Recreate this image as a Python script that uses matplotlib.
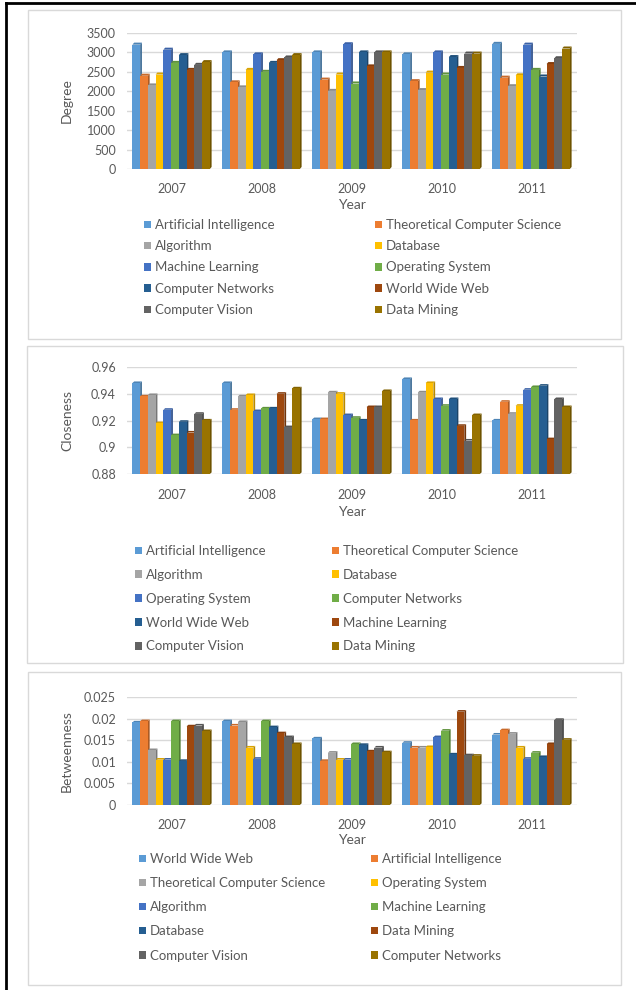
import numpy as np
import matplotlib
matplotlib.use("Agg")
import matplotlib.pyplot as plt
from matplotlib.patches import Rectangle, Patch
from matplotlib.lines import Line2D
import matplotlib.colors as mcolors

plt.rcParams['font.family'] = ['Lato', 'DejaVu Sans']

years = ['2007', '2008', '2009', '2010', '2011']

palette = ['#5B9BD5', '#ED7D31', '#A5A5A5', '#FFC000', '#4472C4',
           '#70AD47', '#255E91', '#9E480E', '#636363', '#997300']

# --- Degree ---
degree_names = ['Artificial Intelligence', 'Theoretical Computer Science', 'Algorithm',
                'Database', 'Machine Learning', 'Operating System', 'Computer Networks',
                'World Wide Web', 'Computer Vision', 'Data Mining']
degree_values = [
    [3200, 3000, 3000, 2950, 3220],
    [2400, 2230, 2300, 2260, 2350],
    [2150, 2100, 2010, 2030, 2130],
    [2430, 2550, 2430, 2480, 2410],
    [3070, 2950, 3210, 3000, 3200],
    [2730, 2500, 2200, 2430, 2550],
    [2930, 2730, 3000, 2880, 2380],
    [2550, 2800, 2640, 2600, 2700],
    [2680, 2870, 3000, 2970, 2850],
    [2750, 2930, 3000, 2970, 3100],
]
degree_ticks = [0, 500, 1000, 1500, 2000, 2500, 3000, 3500]
degree_ticklabels = ['0', '500', '1000', '1500', '2000', '2500', '3000', '3500']

# --- Closeness ---
closeness_names = ['Artificial Intelligence', 'Theoretical Computer Science', 'Algorithm',
                   'Database', 'Operating System', 'Computer Networks', 'World Wide Web',
                   'Machine Learning', 'Computer Vision', 'Data Mining']
closeness_values = [
    [0.948, 0.948, 0.921, 0.951, 0.920],
    [0.938, 0.928, 0.921, 0.920, 0.934],
    [0.939, 0.938, 0.941, 0.941, 0.925],
    [0.918, 0.939, 0.940, 0.948, 0.931],
    [0.928, 0.927, 0.924, 0.936, 0.943],
    [0.909, 0.929, 0.922, 0.931, 0.945],
    [0.919, 0.929, 0.920, 0.936, 0.946],
    [0.911, 0.940, 0.930, 0.916, 0.906],
    [0.925, 0.915, 0.930, 0.905, 0.936],
    [0.920, 0.944, 0.942, 0.924, 0.930],
]
closeness_ticks = [0.88, 0.90, 0.92, 0.94, 0.96]
closeness_ticklabels = ['0.88', '0.9', '0.92', '0.94', '0.96']

# --- Betweenness ---
betweenness_names = ['World Wide Web', 'Artificial Intelligence', 'Theoretical Computer Science',
                     'Operating System', 'Algorithm', 'Machine Learning', 'Database',
                     'Data Mining', 'Computer Vision', 'Computer Networks']
betweenness_values = [
    [0.0191, 0.0194, 0.0154, 0.0144, 0.0163],
    [0.0194, 0.0184, 0.0102, 0.0133, 0.0173],
    [0.0127, 0.0192, 0.0121, 0.0133, 0.0165],
    [0.0105, 0.0133, 0.0105, 0.0134, 0.0133],
    [0.0105, 0.0107, 0.0105, 0.0157, 0.0107],
    [0.0194, 0.0194, 0.0141, 0.0172, 0.0121],
    [0.0102, 0.0180, 0.0139, 0.0117, 0.0111],
    [0.0182, 0.0166, 0.0124, 0.0216, 0.0141],
    [0.0184, 0.0157, 0.0133, 0.0115, 0.0197],
    [0.0171, 0.0141, 0.0122, 0.0114, 0.0151],
]
betweenness_ticks = [0, 0.005, 0.01, 0.015, 0.02, 0.025]
betweenness_ticklabels = ['0', '0.005', '0.01', '0.015', '0.02', '0.025']

TXT = '#595959'
W, H = 636, 990


def shade(c, f):
    r, g, b = mcolors.to_rgb(c)
    return (r * f, g * f, b * f)


def fx(px):
    return px / W


def fy(py):
    return 1 - py / H


def draw_bars(ax, names, values, ticks, ticklabels, ylabel, year_y, tick_pad):
    ymin, ymax = ticks[0], ticks[-1]
    n = len(names)
    bw = 0.086
    dx = 0.02
    dy = (ymax - ymin) * 0.015
    x = np.arange(len(years))
    start = -bw * n / 2 - dx / 2
    for i, (vals, c) in enumerate(zip(values, palette)):
        x0 = x + start + i * bw
        vals = np.asarray(vals)
        z = 2 + i * 0.01
        ax.bar(x0, vals - ymin, width=bw, bottom=ymin, align='edge',
               color=c, linewidth=0, zorder=z)
        # fake 3D side and top faces
        for xl, v in zip(x0, vals):
            ax.fill([xl + bw, xl + bw + dx, xl + bw + dx, xl + bw],
                    [ymin, ymin + dy, v + dy, v], color=shade(c, 0.72),
                    linewidth=0, zorder=z - 0.001)
            ax.fill([xl, xl + dx, xl + bw + dx, xl + bw],
                    [v, v + dy, v + dy, v], color=shade(c, 0.85),
                    linewidth=0, zorder=z - 0.001)
    ax.set_xlim(-0.5, 4.5)
    ax.set_ylim(ymin, ymax)
    ax.set_xticks(x)
    ax.set_xticklabels(years)
    ax.set_yticks(ticks)
    ax.set_yticklabels(ticklabels)
    ax.tick_params(length=0, colors=TXT, labelsize=9)
    ax.tick_params(axis='x', pad=tick_pad)
    ax.tick_params(axis='y', pad=8)
    for s in ax.spines.values():
        s.set_visible(False)
    ax.grid(axis='y', color='#D9D9D9', linewidth=1)
    ax.set_axisbelow(True)
    ax.set_ylabel(ylabel, color=TXT, fontsize=10)
    ax.yaxis.set_label_coords(-0.12, 0.5)
    ax.set_xlabel('Year', color=TXT, fontsize=10)
    ax.xaxis.set_label_coords(0.5, year_y)
    ax.xaxis.label.set_va('center')


def draw_legend(fig, names, left_x, right_x, top_y, spacing):
    handles = [Patch(facecolor=c, edgecolor='none') for c in palette]
    for col, xpx in ((0, left_x), (1, right_x)):
        fig.legend(handles[col::2], names[col::2], loc='upper left',
                   bbox_to_anchor=(fx(xpx), fy(top_y)),
                   frameon=False, fontsize=9.5, labelcolor=TXT, handlelength=0.5,
                   handleheight=0.5, handletextpad=0.3, borderpad=0,
                   borderaxespad=0, labelspacing=spacing)


fig = plt.figure(figsize=(W / 100, H / 100), dpi=100)

# panel frames
for (l, t, r, b) in [(28, 10, 621, 339), (27, 346, 623, 663), (28, 672, 621, 985)]:
    fig.patches.append(Rectangle((fx(l), fy(b)), fx(r - l), (b - t) / H,
                                 transform=fig.transFigure, fill=False,
                                 edgecolor='#D9D9D9', linewidth=1, zorder=0))
# page border
fig.lines.append(Line2D([fx(6), fx(6)], [0, fy(3)], transform=fig.transFigure,
                        color='black', linewidth=2))
fig.lines.append(Line2D([fx(6), 1], [fy(3), fy(3)], transform=fig.transFigure,
                        color='black', linewidth=2))

ax1 = fig.add_axes([fx(127), fy(169), fx(450), (169 - 33) / H])
draw_bars(ax1, degree_names, degree_values, degree_ticks, degree_ticklabels,
          'Degree', -0.265, 10)
draw_legend(fig, degree_names, 144, 375, 219, 0.7)

ax2 = fig.add_axes([fx(127), fy(474), fx(450), (474 - 367) / H])
draw_bars(ax2, closeness_names, closeness_values, closeness_ticks, closeness_ticklabels,
          'Closeness', -0.355, 11)
draw_legend(fig, closeness_names, 135, 332, 545, 0.9)

ax3 = fig.add_axes([fx(127), fy(805), fx(450), (805 - 697) / H])
draw_bars(ax3, betweenness_names, betweenness_values, betweenness_ticks,
          betweenness_ticklabels, 'Betweenness', -0.325, 10)
draw_legend(fig, betweenness_names, 139, 371, 853, 0.92)

fig.savefig('out.png', dpi=100)
